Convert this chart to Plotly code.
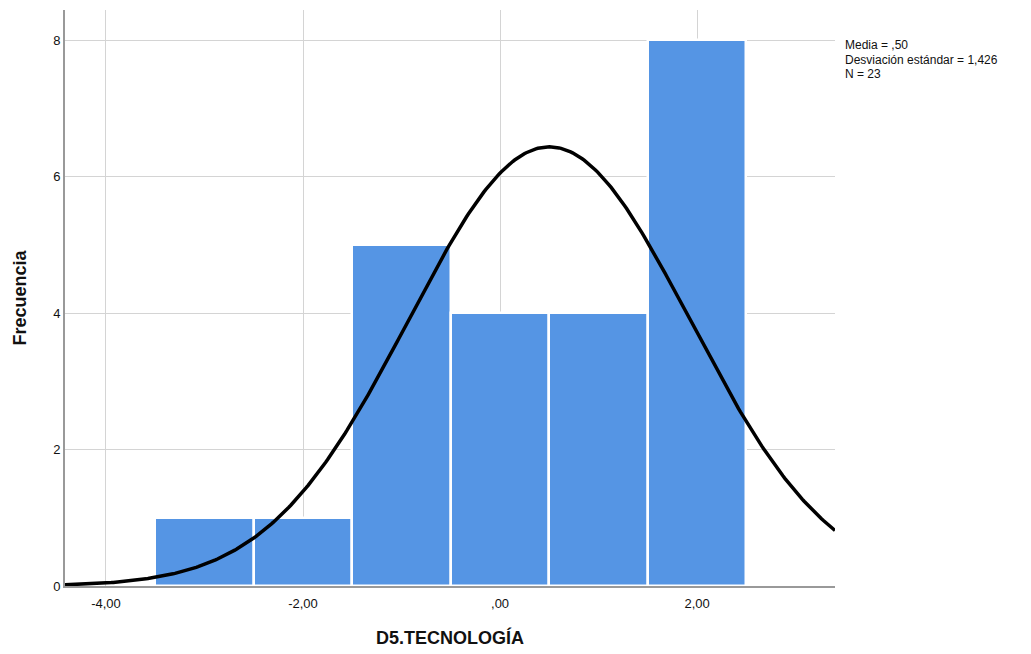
import numpy as np
import plotly.graph_objects as go

# Data
bin_centers = [-3, -2, -1, 0, 1, 2]
frequencies = [1, 1, 5, 4, 4, 8]
bin_width = 1.0
mean_val = 0.50
sd_val = 1.426
n_val = 23
x_tick_vals = [-4, -2, 0, 2]
x_tick_text = ["-4,00", "-2,00", ",00", "2,00"]
y_tick_vals = [0, 2, 4, 6, 8]
stats_lines = ["Media = ,50", "Desviación estándar = 1,426", "N = 23"]

x_range = [-4.416, 3.40]
y_range = [0, 8.44]

# fitted normal curve from the stated statistics
xs = np.linspace(x_range[0], x_range[1], 400)
ys = n_val * bin_width * np.exp(-0.5 * ((xs - mean_val) / sd_val) ** 2) / (sd_val * np.sqrt(2 * np.pi))

font_family = "Arial, Liberation Sans, sans-serif"

fig = go.Figure()
fig.add_trace(go.Bar(
    x=bin_centers, y=frequencies, width=bin_width,
    marker=dict(color="#5595e4", line=dict(color="white", width=2.5)),
    hoverinfo="skip", showlegend=False,
))
fig.add_trace(go.Scatter(
    x=xs, y=ys, mode="lines",
    line=dict(color="black", width=3.5),
    hoverinfo="skip", showlegend=False,
))

for i, line in enumerate(stats_lines):
    fig.add_annotation(
        xref="paper", yref="paper",
        x=(843 - 65) / 770, y=1 - (45 + i * 14.5 - 10) / 576,
        xanchor="left", yanchor="middle",
        text=line, showarrow=False,
        font=dict(family=font_family, size=12, color="#111"),
    )

fig.update_layout(
    width=1023, height=646,
    margin=dict(l=57, r=196, t=2, b=68),
    plot_bgcolor="white", paper_bgcolor="white",
    bargap=0,
    font=dict(family=font_family, color="#111"),
    xaxis=dict(
        range=x_range, tickvals=x_tick_vals, ticktext=x_tick_text,
        showgrid=True, gridcolor="#d4d4d4", gridwidth=1,
        showline=True, linecolor="#999", linewidth=2,
        ticks="outside", ticklen=4, tickcolor="rgba(0,0,0,0)", zeroline=False,
        tickfont=dict(size=13, color="#111"),
        title=dict(text="<b>D5.TECNOLOGÍA</b>", font=dict(size=18, color="#111"), standoff=22),
    ),
    yaxis=dict(
        range=y_range, tickvals=y_tick_vals,
        showgrid=True, gridcolor="#d4d4d4", gridwidth=1,
        showline=True, linecolor="#999", linewidth=2,
        ticks="", zeroline=False,
        tickfont=dict(size=13, color="#111"),
        title=dict(text="<b>Frecuencia</b>", font=dict(size=18, color="#111"), standoff=22),
    ),
)

fig.write_html("out.html")
